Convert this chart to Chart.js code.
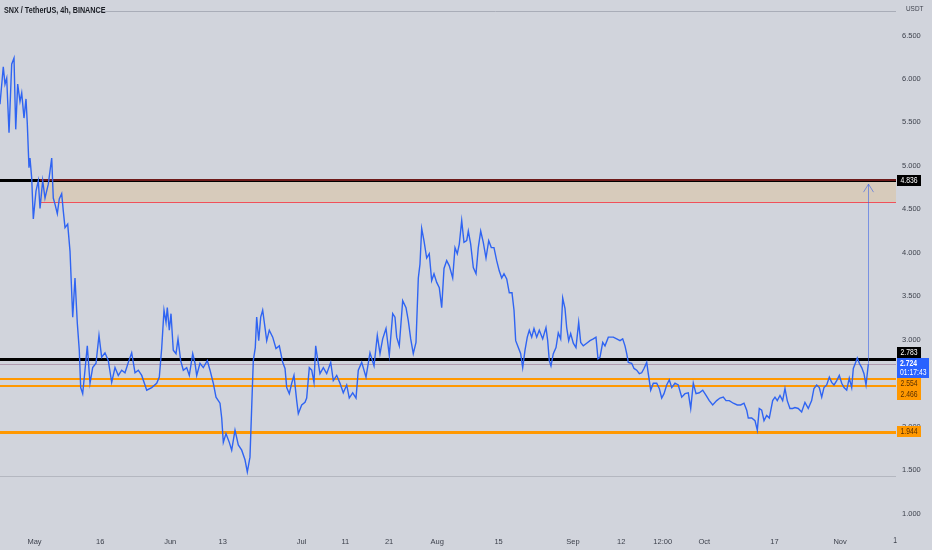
<!DOCTYPE html>
<html>
<head>
<meta charset="utf-8">
<title>SNX / TetherUS, 4h, BINANCE</title>
<script src="https://cdn.jsdelivr.net/npm/chart.js@4.4.1/dist/chart.umd.min.js"></script>
<style>
  html, body { margin: 0; padding: 0; background: #d1d4dc; }
  #wrap { width: 932px; height: 550px; }
</style>
</head>
<body>
<div id="wrap"><canvas id="priceChart" width="932" height="550"></canvas></div>
<script>
const days = [
  -7.88,-7.13,-6.74,-6.35,-5.82,-5.21,-4.68,-4.29,-3.84,-3.31,-2.92,-2.40,-1.94,-1.64,-1.26,-1.03,-0.64,-0.27,0.34,0.87,1.26,1.87,2.40,3.15,3.54,3.93,4.29,4.68,5.21,5.66,6.21,6.58,6.97,7.58,8.11,8.73,9.25,9.78,10.23,10.55,11.01,11.53,12.06,12.68,13.29,14.05,14.73,15.34,16.10,16.86,17.63,18.39,19.14,19.92,20.67,21.43,22.20,22.96,23.71,24.49,25.63,26.77,27.91,
  28.51,29.05,29.58,30.04,30.33,30.79,31.18,31.70,32.32,32.78,33.39,33.99,34.76,35.36,36.14,36.66,37.05,37.80,38.56,39.47,40.09,40.84,41.46,42.37,42.76,43.13,43.74,44.49,45.04,45.80,46.55,47.33,48.08,48.61,49.22,49.61,49.98,50.43,50.75,51.21,51.67,52.12,52.65,53.04,53.63,54.41,55.16,55.92,56.69,57.22,57.61,58.20,58.75,59.27,59.89,60.26,61.03,61.79,
  62.17,62.77,63.32,63.84,64.23,64.60,65.21,65.97,66.74,67.66,68.25,69.03,69.78,70.53,71.31,71.90,72.68,73.44,73.96,74.74,75.72,76.63,77.55,78.30,78.92,79.53,80.29,81.04,81.82,82.34,82.73,83.32,84.10,84.86,85.38,85.93,86.52,87.14,87.67,88.05,88.44,88.96,89.58,90.17,90.72,91.25,91.87,92.46,93.01,93.54,94.15,94.75,95.52,96.05,96.57,97.03,
  97.58,98.10,98.72,99.09,99.63,100.23,100.85,101.37,101.92,102.51,103.13,103.75,104.34,104.95,105.57,106.17,106.72,107.24,107.86,108.45,109.07,109.53,109.91,110.51,111.05,111.51,112.04,112.56,113.02,113.57,114.09,114.71,115.30,116.08,116.83,117.22,117.59,117.97,118.50,119.12,119.64,120.19,120.65,121.17,121.56,122.02,122.47,123.07,123.68,124.30,124.76,125.35,126.13,126.88,127.64,128.25,128.71,129.17,129.79,130.31,131.07,132.21,132.98,133.74,134.35,134.88,
  135.27,135.63,136.41,136.94,137.55,138.15,138.69,139.22,139.84,140.20,140.75,141.34,142.12,142.71,143.26,143.79,144.40,145.00,145.55,146.30,147.05,147.83,148.58,149.34,149.89,150.48,151.10,151.85,152.63,153.40,154.13,154.91,155.82,156.58,157.33,157.95,158.70,159.62,160.53,161.31,162.06,162.68,163.04,163.82,164.57,165.10,165.55,166.10,166.63,167.24,167.84,168.61,169.14,169.66,170.28,170.89,171.42,171.94,172.56,173.17,173.70,174.45,175.23,175.98,176.74,177.51,178.04,178.66,179.26,179.81,180.33,180.95,181.55,182.09,182.62,183.24,183.83,184.38,184.91,185.52,186.11,186.66,187.03,187.49,187.94,188.40,188.95,189.47,189.93,190.46
];
const prices = [
  5.71,6.14,5.94,6.01,5.38,6.17,6.24,5.42,5.94,5.74,5.84,5.55,5.77,5.48,4.98,5.09,4.86,4.39,4.71,4.83,4.51,4.83,4.63,4.79,4.94,5.09,4.63,4.56,4.45,4.62,4.68,4.48,4.29,4.33,4.02,3.26,3.71,3.19,2.88,2.45,2.38,2.65,2.93,2.50,2.68,2.73,3.05,2.80,2.85,2.76,2.51,2.68,2.59,2.65,2.62,2.74,2.85,2.62,2.65,2.59,2.42,2.45,2.50,
  2.57,2.90,3.34,3.20,3.37,3.11,3.30,2.88,2.84,3.01,2.76,2.65,2.68,2.59,2.84,2.73,2.59,2.73,2.68,2.76,2.65,2.50,2.34,2.27,2.10,1.82,1.92,1.82,1.73,1.96,1.79,1.73,1.62,1.48,1.65,2.22,2.76,2.91,3.26,2.99,3.26,3.34,3.14,2.99,3.11,3.03,2.90,2.93,2.74,2.67,2.45,2.38,2.50,2.59,2.30,2.15,2.25,2.28,
  2.33,2.68,2.65,2.51,2.93,2.80,2.61,2.68,2.61,2.74,2.53,2.59,2.50,2.39,2.48,2.33,2.39,2.33,2.65,2.74,2.57,2.85,2.70,3.05,2.84,3.01,3.13,2.82,3.30,3.26,3.03,2.93,3.45,3.37,3.22,3.01,2.84,2.97,3.71,3.87,4.28,4.14,3.94,3.99,3.68,3.76,3.66,3.60,3.37,3.82,3.91,3.85,3.71,4.06,3.99,4.10,
  4.37,4.12,4.14,4.25,4.10,3.83,3.76,4.06,4.25,4.12,3.94,4.14,4.06,4.06,3.91,3.79,3.71,3.76,3.70,3.54,3.54,3.34,2.99,2.91,2.84,2.68,2.88,3.03,3.11,3.03,3.13,3.03,3.11,3.01,3.14,2.99,2.76,2.70,2.84,2.91,3.08,3.01,3.48,3.36,3.14,2.99,3.07,2.96,2.91,3.20,2.97,2.93,2.96,2.99,3.01,3.03,2.78,2.80,2.97,2.93,3.03,3.03,3.01,2.99,3.01,2.93,
  2.84,2.74,2.73,2.67,2.65,2.61,2.62,2.67,2.74,2.61,2.42,2.50,2.50,2.44,2.33,2.38,2.48,2.54,2.45,2.50,2.48,2.34,2.38,2.39,2.21,2.50,2.38,2.39,2.42,2.36,2.30,2.25,2.30,2.33,2.34,2.30,2.30,2.27,2.25,2.25,2.27,2.19,2.10,2.10,2.07,1.96,2.21,2.19,2.07,2.13,2.10,2.30,2.34,2.30,2.36,2.30,2.44,2.30,2.21,2.21,2.22,2.21,2.17,2.28,2.21,2.30,2.44,2.48,2.45,2.34,2.45,2.48,2.57,2.51,2.48,2.53,2.59,2.50,2.45,2.42,2.56,2.45,2.67,2.73,2.79,2.73,2.68,2.61,2.48,2.72
];

// axis ticks
const xTickDays   = [0, 15, 31, 43, 61, 71, 81, 92, 106, 123, 134, 143.5, 153, 169, 184];
const xTickLabels = ['May', '16', 'Jun', '13', 'Jul', '11', '21', 'Aug', '15', 'Sep', '12', '12:00', 'Oct', '17', 'Nov'];
const xCutTick = { day: 197, label: '14' };
const yTicks = [1.0, 1.5, 2.0, 2.5, 3.0, 3.5, 4.0, 4.5, 5.0, 5.5, 6.0, 6.5];

// drawn levels
const blackLevels  = [4.836, 2.783];
const orangeLevels = [2.554, 2.466];
const orangeStrong = [1.944];
const zone = { from: 4.836, to: 4.585, startDay: 1.25 };
const grayLevel = 1.431;
const lastPrice = 2.724;
const countdown = '01:17:43';
const arrowTop = 4.79;

const FONT = '"Liberation Sans", Arial, sans-serif';
const BG = '#d1d4dc';
const TEXT = '#3b3f4a';

function hline(ctx, y, x0, x1, color, width) {
    ctx.beginPath();
    ctx.strokeStyle = color;
    ctx.lineWidth = width;
    const yy = width % 2 ? Math.round(y) + 0.5 : Math.round(y);
    ctx.moveTo(x0, yy);
    ctx.lineTo(x1, yy);
    ctx.stroke();
}

// narrow text: the screenshot's lettering is squeezed sideways
function narrowText(ctx, text, x, y, size, color, align, weight) {
    ctx.save();
    ctx.font = (weight || '') + ' ' + size + 'px ' + FONT;
    ctx.fillStyle = color;
    ctx.textAlign = align || 'left';
    ctx.textBaseline = 'middle';
    ctx.translate(x, y);
    ctx.scale(0.8, 1);
    ctx.fillText(text, 0, 0);
    ctx.restore();
}

function badge(ctx, left, cy, w, h, text, bg, fg) {
    ctx.fillStyle = bg;
    ctx.fillRect(left, Math.round(cy - h / 2), w, h);
    narrowText(ctx, text, left + w / 2, cy + 0.5, 8.5, fg, 'center');
}

const backgroundPlugin = {
    id: 'background',
    beforeDraw(chart) {
        const ctx = chart.ctx;
        ctx.save();
        ctx.fillStyle = BG;
        ctx.fillRect(0, 0, chart.width, chart.height);
        ctx.restore();
    }
};

const levelsPlugin = {
    id: 'levels',
    beforeDatasetsDraw(chart) {
        const { ctx, chartArea: a, scales: { x, y } } = chart;
        ctx.save();
        // top border after the title
        hline(ctx, a.top, a.left + 95, a.right, '#a9adb8', 1);
        // resistance zone
        const zx = x.getPixelForValue(zone.startDay);
        const zt = y.getPixelForValue(zone.from);
        const zb = y.getPixelForValue(zone.to);
        ctx.fillStyle = 'rgba(255, 152, 0, 0.15)';
        ctx.fillRect(zx, zt, a.right - zx, zb - zt);
        hline(ctx, zb, zx, a.right, '#f0505a', 1);
        // support / resistance lines
        blackLevels.forEach(v => hline(ctx, y.getPixelForValue(v), a.left, a.right, '#000000', 3));
        hline(ctx, zt, zx, a.right, '#6e1a1a', 2);
        orangeLevels.forEach(v => hline(ctx, y.getPixelForValue(v), a.left, a.right, '#ff9800', 2));
        orangeStrong.forEach(v => hline(ctx, y.getPixelForValue(v), a.left, a.right, '#ff9800', 3));
        hline(ctx, y.getPixelForValue(grayLevel), a.left, a.right, '#b4b7c0', 1);
        // last price line
        hline(ctx, y.getPixelForValue(lastPrice), a.left, a.right, 'rgba(150, 110, 140, 0.55)', 1);
        ctx.restore();
    }
};

const overlayPlugin = {
    id: 'overlay',
    afterDraw(chart) {
        const { ctx, chartArea: a, scales: { x, y } } = chart;
        ctx.save();

        // measuring arrow
        const ax = Math.round(x.getPixelForValue(days[days.length - 1])) + 0.5;
        const ay0 = y.getPixelForValue(lastPrice);
        const ay1 = y.getPixelForValue(arrowTop);
        ctx.strokeStyle = 'rgba(60, 100, 230, 0.6)';
        ctx.lineWidth = 1;
        ctx.beginPath();
        ctx.moveTo(ax, ay0);
        ctx.lineTo(ax, ay1);
        ctx.moveTo(ax - 5, ay1 + 8);
        ctx.lineTo(ax, ay1);
        ctx.lineTo(ax + 5, ay1 + 8);
        ctx.stroke();

        // cut-off last date label
        ctx.save();
        ctx.beginPath();
        ctx.rect(0, a.bottom, a.right + 1, chart.height - a.bottom);
        ctx.clip();
        narrowText(ctx, xCutTick.label, x.getPixelForValue(xCutTick.day), a.bottom + 11, 8.5, TEXT, 'center');
        ctx.restore();

        // price badges on the right scale
        const left = a.right + 1;
        const bw = 24, bh = 11;
        const lp = y.getPixelForValue(lastPrice);
        const blueTop = Math.round(lp - 6);
        const blueBottom = blueTop + 20;
        ctx.fillStyle = '#2962ff';
        ctx.fillRect(left, blueTop, 32, 20);
        narrowText(ctx, lastPrice.toFixed(3), left + 3, blueTop + 6, 8.5, '#ffffff', 'left', 'bold');
        narrowText(ctx, countdown, left + 3, blueTop + 15, 8.5, '#ffffff', 'left');

        // labels above the last price get pushed up, labels below get pushed down
        let ceiling = blueTop;
        blackLevels.slice().sort((p, q) => p - q).forEach(v => {
            let cy = y.getPixelForValue(v);
            if (v > lastPrice) {
                if (cy + bh / 2 > ceiling) cy = ceiling - bh / 2;
                ceiling = Math.min(ceiling, cy - bh / 2);
            }
            badge(ctx, left, cy, bw, bh, v.toFixed(3), '#000000', '#ffffff');
        });
        let floor = blueBottom;
        orangeLevels.concat(orangeStrong).sort((p, q) => q - p).forEach(v => {
            let cy = y.getPixelForValue(v);
            if (cy - bh / 2 < floor) cy = floor + bh / 2;
            floor = cy + bh / 2;
            badge(ctx, left, cy, bw, bh, v.toFixed(3), '#ff9800', '#5a3000');
        });

        // title and currency
        narrowText(ctx, 'SNX / TetherUS, 4h, BINANCE', 4, 11, 9, '#1a1d24', 'left', '600');
        narrowText(ctx, 'USDT', a.right + 10, 9, 8, TEXT, 'left');
        ctx.restore();
    }
};

new Chart(document.getElementById('priceChart'), {
    type: 'line',
    data: {
        datasets: [{
            label: 'SNX/USDT',
            data: days.map((d, i) => ({ x: d, y: prices[i] })),
            borderColor: '#2f64f2',
            borderWidth: 1.4,
            pointRadius: 0,
            tension: 0,
            fill: false
        }]
    },
    options: {
        responsive: false,
        animation: false,
        devicePixelRatio: 1,
        layout: { padding: { top: 9, left: 0, right: 0, bottom: 0 } },
        plugins: {
            legend: { display: false },
            tooltip: { enabled: false }
        },
        scales: {
            x: {
                type: 'linear',
                min: -7.88,
                max: 196.78,
                grid: { display: false, drawTicks: false },
                border: { display: false },
                afterBuildTicks: scale => { scale.ticks = xTickDays.map(v => ({ value: v })); },
                afterFit: scale => { scale.height = 20; },
                ticks: {
                    autoSkip: false,
                    maxRotation: 0,
                    padding: 7,
                    color: TEXT,
                    font: { size: 7.5, family: FONT },
                    callback: (value) => {
                        const i = xTickDays.indexOf(value);
                        return i >= 0 ? xTickLabels[i] : '';
                    }
                }
            },
            y: {
                position: 'right',
                min: 0.812,
                max: 6.787,
                grid: { display: false, drawTicks: false },
                border: { display: false },
                afterBuildTicks: scale => { scale.ticks = yTicks.map(v => ({ value: v })); },
                afterFit: scale => { scale.width = 36; },
                ticks: {
                    padding: 6,
                    color: TEXT,
                    font: { size: 7.5, family: FONT },
                    callback: value => Number(value).toFixed(3)
                }
            }
        }
    },
    plugins: [backgroundPlugin, levelsPlugin, overlayPlugin]
});
</script>
</body>
</html>
